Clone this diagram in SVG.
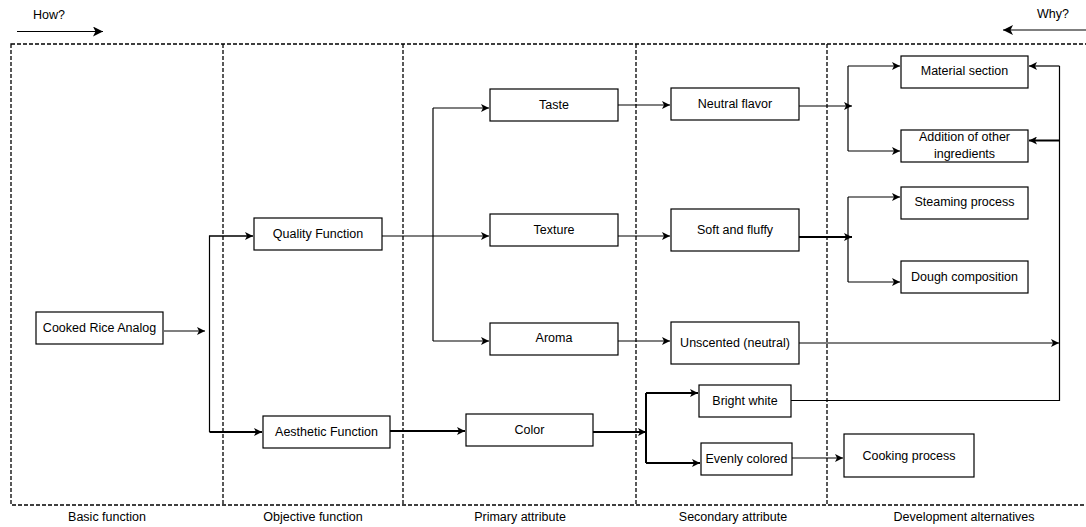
<svg xmlns="http://www.w3.org/2000/svg" width="1086" height="527" viewBox="0 0 1086 527">
<style>
.n{fill:#fff;stroke:#000;stroke-width:1.2}
.t{font-family:"Liberation Sans",Arial,sans-serif;font-size:12.5px;fill:#000;text-anchor:middle}
.c{fill:none;stroke:#000;stroke-width:1.2}
.k{fill:none;stroke:#000;stroke-width:2}
.d{fill:none;stroke:#000;stroke-width:1.3;stroke-dasharray:4 2}
</style>
<defs>
<marker id="a" viewBox="0 0 10 10" refX="10" refY="5" markerWidth="9" markerHeight="8" markerUnits="userSpaceOnUse" orient="auto"><path d="M0,0 L10,5 L0,10 L2.5,5 z" fill="#000"/></marker>
<marker id="b" viewBox="0 0 10 10" refX="10" refY="5" markerWidth="11" markerHeight="10" markerUnits="userSpaceOnUse" orient="auto"><path d="M0,0 L10,5 L0,10 L2.5,5 z" fill="#000"/></marker>
</defs>
<rect width="1086" height="527" fill="#fff"/>
<g id="frame">
<rect class="d" x="11" y="44" width="1080" height="461"/>
<line class="d" x1="223" y1="44" x2="223" y2="505"/>
<line class="d" x1="403" y1="44" x2="403" y2="505"/>
<line class="d" x1="636" y1="44" x2="636" y2="505"/>
<line class="d" x1="827" y1="44" x2="827" y2="505"/>
</g>
<g id="headers">
<text class="t" x="49" y="19">How?</text>
<line class="c" x1="17" y1="31.5" x2="103" y2="31.5" marker-end="url(#b)"/>
<text class="t" x="1053" y="18">Why?</text>
<line class="c" x1="1086" y1="30" x2="1003" y2="30" marker-end="url(#b)"/>
<text class="t" x="107" y="521">Basic function</text>
<text class="t" x="313" y="521">Objective function</text>
<text class="t" x="520" y="521">Primary attribute</text>
<text class="t" x="733" y="521">Secondary attribute</text>
<text class="t" x="964" y="521">Development alternatives</text>
</g>
<g id="connectors">
<line class="c" x1="164" y1="331" x2="205" y2="331" marker-end="url(#a)"/>
<path class="c" d="M253,236 H209.5 V432"/>
<line class="c" x1="209" y1="236" x2="253" y2="236" marker-end="url(#a)"/>
<path class="k" d="M209.5,432 H262" marker-end="url(#a)"/>
<path class="c" d="M382,236 H489" marker-end="url(#a)"/>
<path class="c" d="M433,108 V341"/>
<path class="c" d="M433,108 H489" marker-end="url(#a)"/>
<path class="c" d="M433,341 H489" marker-end="url(#a)"/>
<path class="c" d="M618,105 H670" marker-end="url(#a)"/>
<path class="c" d="M618,236 H670" marker-end="url(#a)"/>
<path class="c" d="M618,341 H670" marker-end="url(#a)"/>
<path class="c" d="M799,106 H852" marker-end="url(#a)"/>
<path class="c" d="M848,66 V151"/>
<path class="c" d="M848,66 H900" marker-end="url(#a)"/>
<path class="c" d="M848,151 H900" marker-end="url(#a)"/>
<path class="k" d="M799,237 H852" marker-end="url(#a)"/>
<path class="c" d="M848,197 V282"/>
<path class="c" d="M848,197 H900" marker-end="url(#a)"/>
<path class="c" d="M848,282 H900" marker-end="url(#a)"/>
<path class="c" d="M799,343 H1059" marker-end="url(#a)"/>
<path class="c" d="M791,400.5 H1059.5 V66"/>
<path class="c" d="M1059.5,66 H1029" marker-end="url(#a)"/>
<path class="k" d="M1059.5,140.5 H1029" marker-end="url(#a)"/>
<path class="k" d="M390,431 H465" marker-end="url(#a)"/>
<path class="k" d="M593,432 H646" marker-end="url(#a)"/>
<path class="k" d="M646,393 V463"/>
<path class="k" d="M646,393 H698" marker-end="url(#a)"/>
<path class="k" d="M646,463 H700" marker-end="url(#a)"/>
<path class="c" d="M792,458 H843" marker-end="url(#a)"/>
</g>
<g id="n-cooked"><rect class="n" x="36" y="312" width="127" height="32"/><text class="t" x="99.5" y="332">Cooked Rice Analog</text></g>
<g id="n-quality"><rect class="n" x="254" y="218" width="128" height="32"/><text class="t" x="318" y="238">Quality Function</text></g>
<g id="n-aesthetic"><rect class="n" x="263" y="416" width="127" height="32"/><text class="t" x="326.5" y="436">Aesthetic Function</text></g>
<g id="n-taste"><rect class="n" x="490" y="89" width="128" height="32"/><text class="t" x="554" y="109">Taste</text></g>
<g id="n-texture"><rect class="n" x="490" y="214" width="128" height="32"/><text class="t" x="554" y="234">Texture</text></g>
<g id="n-aroma"><rect class="n" x="490" y="323" width="128" height="32"/><text class="t" x="554" y="342">Aroma</text></g>
<g id="n-color"><rect class="n" x="466" y="414" width="127" height="32"/><text class="t" x="529.5" y="434">Color</text></g>
<g id="n-neutral"><rect class="n" x="671" y="88" width="128" height="32"/><text class="t" x="735" y="108">Neutral flavor</text></g>
<g id="n-soft"><rect class="n" x="671" y="209" width="128" height="42"/><text class="t" x="735" y="234">Soft and fluffy</text></g>
<g id="n-unscented"><rect class="n" x="671" y="322" width="128" height="42"/><text class="t" x="735" y="347">Unscented (neutral)</text></g>
<g id="n-bright"><rect class="n" x="699" y="385" width="92" height="32"/><text class="t" x="745" y="405">Bright white</text></g>
<g id="n-evenly"><rect class="n" x="701" y="443" width="91" height="32"/><text class="t" x="746.5" y="463">Evenly colored</text></g>
<g id="n-material"><rect class="n" x="901" y="56" width="127" height="32"/><text class="t" x="964.5" y="75">Material section</text></g>
<g id="n-addition"><rect class="n" x="901" y="130" width="127" height="32"/><text class="t" x="964.5" y="141">Addition of other</text><text class="t" x="964.5" y="158">ingredients</text></g>
<g id="n-steaming"><rect class="n" x="901" y="187" width="127" height="32"/><text class="t" x="964.5" y="206">Steaming process</text></g>
<g id="n-dough"><rect class="n" x="901" y="261" width="127" height="32"/><text class="t" x="964.5" y="281">Dough composition</text></g>
<g id="n-cooking"><rect class="n" x="844" y="434" width="130" height="43"/><text class="t" x="909" y="460">Cooking process</text></g>
</svg>
